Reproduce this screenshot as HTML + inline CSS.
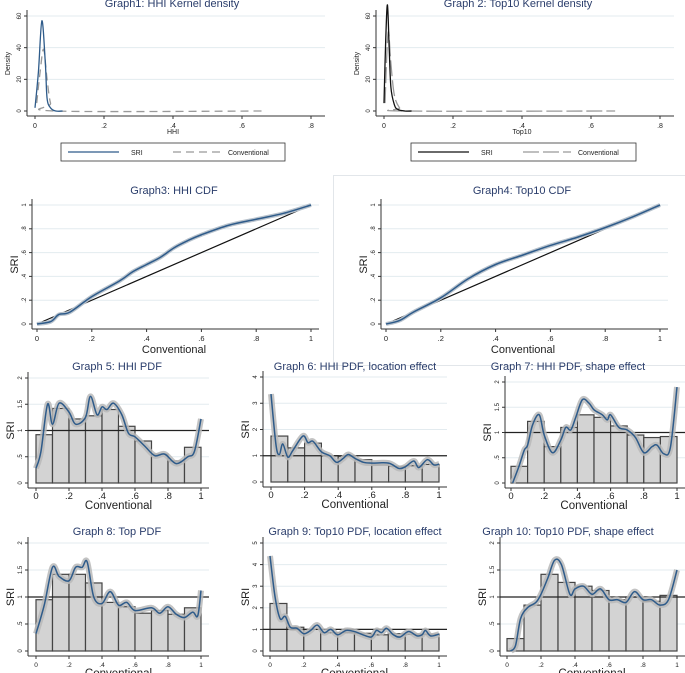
<!DOCTYPE html>
<html><head><meta charset="utf-8"><style>
body{margin:0;background:#fff;}
svg{display:block;font-family:"Liberation Sans",sans-serif;}
</style></head><body>
<svg id="c" width="685" height="673" viewBox="0 0 685 673"></svg>
<script>
// ---- Data ----
const xTicksKD = ["0",".2",".4",".6",".8"];
const yTicksKD = [0,20,40,60];
const g1SriX = [0,0.01,0.02,0.03,0.035,0.045,0.06,0.08];
const g1SriY = [2,25,57,30,8,2,0,0];
const g1ConvX = [0.005,0.015,0.025,0.035,0.045,0.06,0.67];
const g1ConvY = [5,25,39,20,5,0,0];
const g2SriX = [0,0.005,0.01,0.015,0.02,0.03,0.04,0.06,0.08];
const g2SriY = [5,45,67,40,15,4,1,0,0];
const g2ConvX = [0.003,0.008,0.013,0.02,0.03,0.045,0.06,0.67];
const g2ConvY = [5,35,50,30,10,2,0,0];
const cdfTicks = [0,0.2,0.4,0.6,0.8,1];
const g3X = [0,0.05,0.08,0.12,0.2,0.3,0.35,0.4,0.45,0.5,0.55,0.6,0.7,0.8,0.9,1];
const g3Y = [0,0.02,0.08,0.1,0.23,0.36,0.44,0.5,0.56,0.64,0.7,0.75,0.83,0.88,0.93,1];
const g4X = [0,0.05,0.1,0.2,0.3,0.4,0.5,0.6,0.7,0.8,0.9,1];
const g4Y = [0,0.03,0.1,0.22,0.38,0.5,0.58,0.66,0.73,0.81,0.9,1];
const g5Bars = [0.92,1.42,1.22,1.28,1.4,1.08,0.8,0.55,0.42,0.68];
const g5X = [0,0.03,0.07,0.1,0.14,0.2,0.24,0.3,0.33,0.37,0.4,0.43,0.47,0.52,0.56,0.6,0.66,0.72,0.78,0.85,0.92,0.96,1];
const g5Y = [0.28,0.6,1.5,1.12,1.52,1.35,1.12,1.25,1.65,1.3,1.45,1.4,1.52,1.3,0.95,0.88,0.7,0.52,0.55,0.37,0.5,0.6,1.22];
const g6Bars = [1.75,1.3,1.48,1.0,0.98,0.85,0.65,0.6,0.62,0.67];
const g6X = [0,0.03,0.05,0.07,0.1,0.13,0.19,0.22,0.25,0.3,0.35,0.39,0.43,0.46,0.5,0.55,0.6,0.7,0.76,0.8,0.85,0.88,0.93,0.97,1];
const g6Y = [3.35,1.4,1.05,1.45,0.95,1.2,1.75,1.5,1.55,1.15,1.0,0.75,0.9,1.05,0.9,0.75,0.72,0.72,0.52,0.58,0.8,0.55,0.85,0.65,0.68];
const g7Bars = [0.33,1.22,0.72,1.1,1.35,1.3,1.13,0.95,0.9,0.92];
const g7X = [0.01,0.05,0.08,0.1,0.13,0.17,0.2,0.25,0.3,0.33,0.36,0.39,0.43,0.47,0.5,0.55,0.58,0.6,0.65,0.7,0.75,0.8,0.85,0.88,0.92,0.96,1];
const g7Y = [0,0.35,0.65,0.75,1.15,1.35,0.95,0.6,0.85,1.1,1.05,1.3,1.65,1.58,1.45,1.35,1.25,1.35,1.1,1.05,0.9,0.6,0.72,0.75,0.58,0.7,1.9];
const g8Bars = [0.95,1.42,1.42,1.26,0.9,0.82,0.7,0.75,0.68,0.8];
const g8X = [0,0.05,0.1,0.14,0.2,0.24,0.28,0.31,0.35,0.4,0.45,0.5,0.55,0.6,0.7,0.75,0.8,0.85,0.9,0.95,0.98,1];
const g8Y = [0.32,0.85,1.55,1.38,1.3,1.55,1.55,1.65,1.0,0.88,1.1,0.85,0.9,0.75,0.8,0.7,0.82,0.68,0.62,0.72,0.65,1.12];
const g9Bars = [2.2,1.1,1.0,0.85,0.85,0.82,0.75,0.8,0.78,0.78];
const g9X = [0,0.03,0.06,0.09,0.12,0.16,0.2,0.24,0.28,0.32,0.36,0.4,0.45,0.5,0.55,0.6,0.63,0.66,0.69,0.73,0.77,0.82,0.87,0.9,0.92,0.95,1];
const g9Y = [4.4,2.5,1.5,1.6,1.1,1.05,0.8,0.95,1.2,0.85,1.0,0.75,0.95,0.9,0.75,0.65,0.95,0.85,1.05,0.75,0.65,0.9,0.7,0.75,0.95,0.7,0.78];
const g10Bars = [0.23,0.85,1.42,1.27,1.2,1.12,0.95,1.0,0.92,1.03];
const g10X = [0.02,0.05,0.08,0.12,0.17,0.2,0.24,0.28,0.32,0.37,0.4,0.45,0.5,0.55,0.6,0.65,0.7,0.75,0.8,0.85,0.9,0.95,1];
const g10Y = [0,0.1,0.6,0.8,0.9,1.05,1.35,1.68,1.6,1.05,1.15,1.2,1.05,1.15,0.95,0.95,0.9,1.1,0.95,0.95,0.85,0.95,1.5];
const pdfXTicks = [0,0.2,0.4,0.6,0.8,1];
const pdfXLabels = ["0",".2",".4",".6",".8","1"];

// ---- Helpers ----
const svg = document.getElementById('c');
const NS = 'http://www.w3.org/2000/svg';
function el(tag, attrs, parent){
  const e = document.createElementNS(NS, tag);
  for (const k in attrs) e.setAttribute(k, attrs[k]);
  (parent||svg).appendChild(e);
  return e;
}
function txt(s, x, y, size, fill, anchor, rot, parent){
  const t = el('text', {x:x, y:y, 'font-size':size, fill:fill, 'text-anchor':anchor||'middle'}, parent);
  if (rot) t.setAttribute('transform', 'rotate(' + rot + ' ' + x + ' ' + y + ')');
  t.textContent = s;
  return t;
}
function smoothPath(px, py){
  let d = 'M' + px[0] + ',' + py[0];
  for (let i = 0; i < px.length - 1; i++){
    const x0 = px[Math.max(i-1,0)], y0 = py[Math.max(i-1,0)];
    const x1 = px[i], y1 = py[i], x2 = px[i+1], y2 = py[i+1];
    const x3 = px[Math.min(i+2,px.length-1)], y3 = py[Math.min(i+2,px.length-1)];
    d += ' C' + (x1+(x2-x0)/6) + ',' + (y1+(y2-y0)/6) + ' ' + (x2-(x3-x1)/6) + ',' + (y2-(y3-y1)/6) + ' ' + x2 + ',' + y2;
  }
  return d;
}
function fmt(v){ if (v === 0) return '0'; if (v === 1) return '1'; let s = String(Math.round(v*10)/10); return s.replace(/^0/, ''); }

function panel(o){
  const g = el('g', {});
  
  
  const sx = v => o.x0 + (v - o.xmin) / (o.xmax - o.xmin) * (o.x1 - o.x0);
  const sy = v => o.y0 - v / o.ymax * (o.y0 - o.y1);
  const right = o.x1 + (o.padR || 8);
  o.yticks.forEach(v => {
    if (v > 0) el('line', {x1:o.ax, x2:right, y1:sy(v), y2:sy(v), stroke:'#e3ebef', 'stroke-width':1}, g);
  });
  const t = txt(o.title, o.titleX, o.titleY, 11, '#2a3d6b', 'middle', 0, g);
  
  
  const yb = o.y0 + 5;
  el('line', {x1:o.ax, x2:o.ax, y1:o.y1 - 6, y2:yb, stroke:'#333', 'stroke-width':1}, g);
  el('line', {x1:o.ax, x2:right, y1:yb, y2:yb, stroke:'#333', 'stroke-width':1}, g);
  o.yticks.forEach((v, i) => {
    el('line', {x1:o.ax-3, x2:o.ax, y1:sy(v), y2:sy(v), stroke:'#333'}, g);
    const lab = txt(fmt(v), o.ax-6, sy(v), 6, '#222', 'middle', -90, g);
    
    
  });
  o.xticks.forEach((v, i) => {
    el('line', {x1:sx(v), x2:sx(v), y1:yb, y2:yb+3, stroke:'#333'}, g);
    const lab = txt(o.xlabels[i], sx(v), yb + (o.xtickDy || 12), o.xtickSize || 8, '#222', 'middle', 0, g);
    
    
  });
  const xt = txt(o.xtitle, (o.x0 + o.x1) / 2, yb + (o.xtitleDy || 21), o.xtitleSize || 12, '#222', 'middle', 0, g);
  
  
  const ytt = txt(o.ytitle, o.ax - (o.ytitleDx || 16), (o.y0 + o.y1) / 2, o.ytitleSize || 11, '#222', 'middle', -90, g);
  
  
  return {g, sx, sy, right};
}

function pdfPanel(name, title, titleX, titleY, ax, x0, x1, y0, y1, ymax, yticks, bars, cx, cy, tickSize){
  const p = panel({name, title, titleX, titleY, ax, x0, x1, y0, y1, xmin:0, xmax:1, ymax, yticks,
    xticks:pdfXTicks, xlabels:pdfXLabels, xtitle:'Conventional', ytitle:'SRI', xtitleSize:11.5, xtitleDy:21, xtickDy:11, xtickSize:tickSize, ytitleDx:14});
  bars.forEach((h, i) => {
    const r = el('rect', {x:p.sx(i*0.1), y:p.sy(h), width:p.sx(0.1)-p.sx(0), height:p.sy(0)-p.sy(h), fill:'#d3d3d3', stroke:'#444', 'stroke-width':1.2}, p.g);
    
    
  });
  el('line', {x1:ax, x2:p.right, y1:p.sy(1), y2:p.sy(1), stroke:'#222', 'stroke-width':1.2}, p.g);
  const px = cx.map(p.sx), py = cy.map(p.sy);
  const d = smoothPath(px, py);
  const band = el('path', {d, fill:'none', stroke:'#b8b8b8', 'stroke-width':6, 'stroke-linejoin':'round', opacity:0.85}, p.g);
  
  
  const ln = el('path', {d, fill:'none', stroke:'#2e5b8a', 'stroke-width':1.5}, p.g);
  
  
}

function cdfPanel(name, title, titleX, ax, x0, x1, xs, ys){
  const p = panel({name, title, titleX, titleY:194, ax, x0, x1, y0:324, y1:205, xmin:0, xmax:1, ymax:1, yticks:cdfTicks,
    xticks:cdfTicks, xlabels:pdfXLabels, xtitle:'Conventional', ytitle:'SRI', xtitleSize:11, xtitleDy:24, xtickDy:12, xtickSize:7.5, ytitleDx:14, padR:8});
  el('line', {x1:p.sx(0), x2:p.sx(1), y1:p.sy(0), y2:p.sy(1), stroke:'#111', 'stroke-width':1.2}, p.g);
  const d = smoothPath(xs.map(p.sx), ys.map(p.sy));
  el('path', {d, fill:'none', stroke:'#b8c2cc', 'stroke-width':4}, p.g);
  const ln = el('path', {d, fill:'none', stroke:'#2e5b8a', 'stroke-width':1.5}, p.g);
  
  
}

function kdPanel(name, title, titleX, ax, x0, x1, xtitle, sX, sY, cX, cY, sriColor, convDash, lx0, lx1){
  const p = panel({name, title, titleX, titleY:7, ax, x0, x1, y0:111, y1:16, xmin:0, xmax:0.8, ymax:60, yticks:yTicksKD,
    xticks:[0,0.2,0.4,0.6,0.8], xlabels:xTicksKD, xtitle, ytitle:'Density', xtitleSize:7, xtitleDy:18, xtickSize:7, ytitleSize:7, ytitleDx:17, padR:14});
  const c = el('path', {d:smoothPath(cX.map(p.sx), cY.map(p.sy)), fill:'none', stroke:'#999', 'stroke-width':1.3, 'stroke-dasharray':convDash}, p.g);
  
  
  const s = el('path', {d:smoothPath(sX.map(p.sx), sY.map(p.sy)), fill:'none', stroke:sriColor, 'stroke-width':1.3}, p.g);
  
  
  const lg = el('g', {}, p.g);
  
  
  el('rect', {x:lx0, y:143, width:lx1-lx0, height:18, fill:'#fff', stroke:'#333', 'stroke-width':0.8}, lg);
  el('line', {x1:lx0+7, x2:lx0+58, y1:152, y2:152, stroke:sriColor, 'stroke-width':1.3}, lg);
  txt('SRI', lx0+70, 155, 7, '#222', 'start', 0, lg);
  el('line', {x1:lx0+112, x2:lx0+160, y1:152, y2:152, stroke:'#999', 'stroke-width':1.3, 'stroke-dasharray':convDash}, lg);
  txt('Conventional', lx0+167, 155, 7, '#222', 'start', 0, lg);
}

// ---- Draw ----
kdPanel('graph1-hhi-kernel-density', 'Graph1: HHI Kernel density', 172, 27, 35, 311, 'HHI', g1SriX, g1SriY, g1ConvX, g1ConvY, '#2e5b8a', '8,5', 61, 285);
kdPanel('graph2-top10-kernel-density', 'Graph 2: Top10 Kernel density', 518, 376, 384, 660, 'Top10', g2SriX, g2SriY, g2ConvX, g2ConvY, '#111', '16,4', 411, 636);

el('rect', {x:333.5, y:175.5, width:360, height:190, fill:'none', stroke:'#e2e6ea', 'stroke-width':1});
cdfPanel('graph3-hhi-cdf', 'Graph3: HHI CDF', 174, 32, 37, 311, g3X, g3Y);
cdfPanel('graph4-top10-cdf', 'Graph4: Top10 CDF', 522, 381, 386, 660, g4X, g4Y);

pdfPanel('graph5-hhi-pdf', 'Graph 5: HHI PDF', 117, 370, 28, 36, 201, 483, 378, 2, [0,0.5,1,1.5,2], g5Bars, g5X, g5Y, 9.5);
pdfPanel('graph6-hhi-pdf-location', 'Graph 6: HHI PDF, location effect', 355, 370, 263, 271, 439, 482, 377, 4, [0,1,2,3,4], g6Bars, g6X, g6Y, 9.5);
pdfPanel('graph7-hhi-pdf-shape', 'Graph 7: HHI PDF, shape effect', 568, 370, 505, 511, 677, 483, 382, 2, [0,0.5,1,1.5,2], g7Bars, g7X, g7Y, 9.5);
pdfPanel('graph8-top-pdf', 'Graph 8: Top PDF', 117, 535, 28, 36, 201, 651, 543, 2, [0,0.5,1,1.5,2], g8Bars, g8X, g8Y, 6.5);
pdfPanel('graph9-top10-pdf-location', 'Graph 9: Top10 PDF, location effect', 355, 535, 263, 270, 439, 651, 543, 5, [0,1,2,3,4,5], g9Bars, g9X, g9Y, 6.5);
pdfPanel('graph10-top10-pdf-shape', 'Graph 10: Top10 PDF, shape effect', 568, 535, 500, 507, 677, 651, 543, 2, [0,0.5,1,1.5,2], g10Bars, g10X, g10Y, 6.5);
</script>
</body></html>
